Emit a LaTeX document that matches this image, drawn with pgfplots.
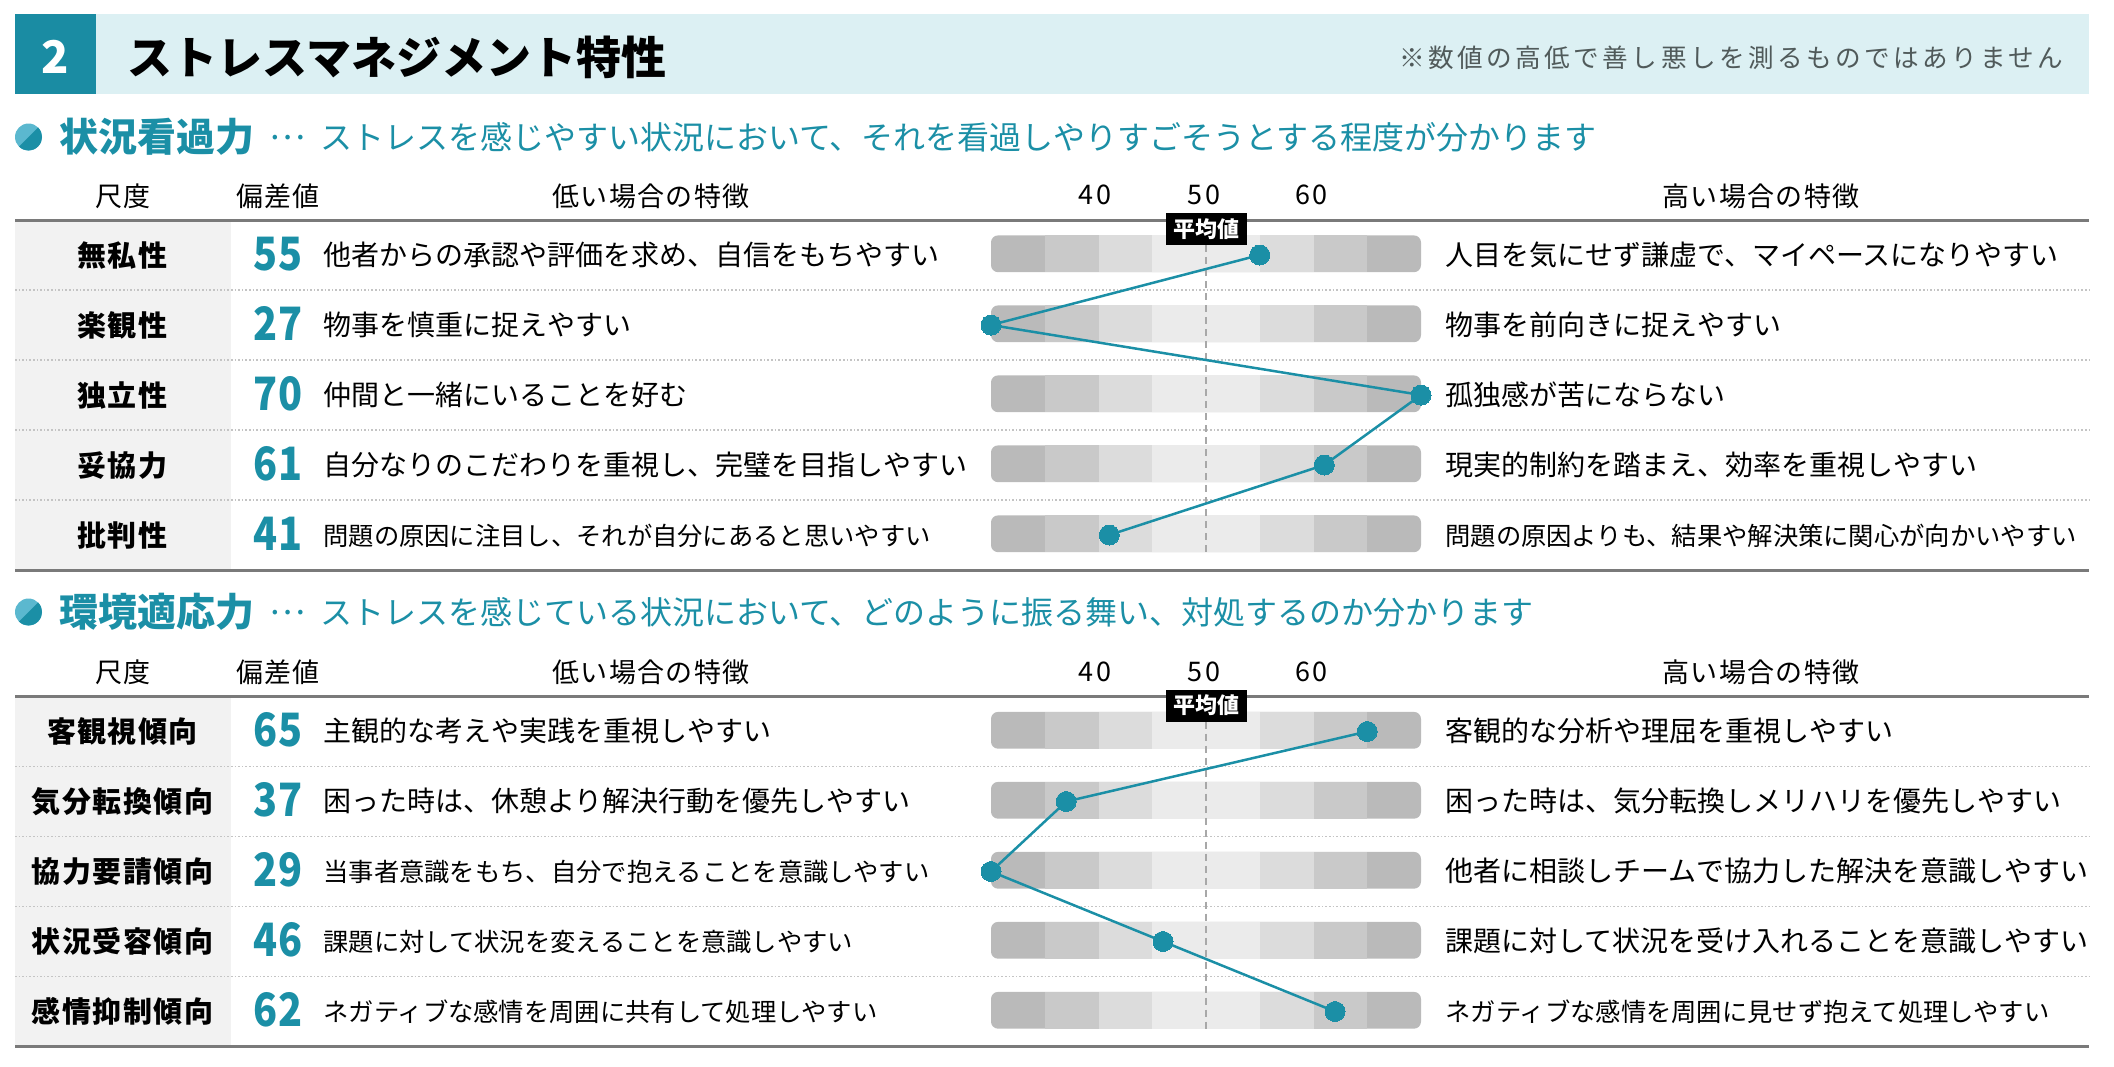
\documentclass[border=0pt]{standalone}
\usepackage{pgfplots}
\pgfplotsset{compat=1.18}
\usepackage{fontspec}
\setmainfont{Noto Sans CJK JP}
\newfontfamily\jpls{Noto Sans CJK JP}
\newfontfamily\jphd{Noto Sans CJK JP}[LetterSpace=5]
\newfontfamily\jpnote{Noto Sans CJK JP}[LetterSpace=13.5]
\newfontfamily\jptick{Noto Sans CJK JP}[LetterSpace=10]
\newfontfamily\jplbl{Noto Sans CJK JP}[LetterSpace=5]
\newfontfamily\jpdesc{Noto Sans CJK JP}
\newfontfamily\jpscore{Noto Sans CJK JP}[FakeStretch=0.86]

\definecolor{teal1}{HTML}{1B8FA6}
\definecolor{teal2}{HTML}{1A8CA3}
\definecolor{teallight}{HTML}{5BB8CF}
\definecolor{bannerbg}{HTML}{DCF0F3}
\definecolor{notegray}{HTML}{505A5A}
\definecolor{cellbg}{HTML}{F2F2F2}
\definecolor{rulec}{HTML}{7A7A7A}
\definecolor{dotc}{HTML}{C4C4C4}
\definecolor{c1}{HTML}{BABABA}
\definecolor{c2}{HTML}{C9C9C9}
\definecolor{c3}{HTML}{DCDCDC}
\definecolor{c4}{HTML}{EBEBEB}
\definecolor{dashc}{HTML}{A8A8A8}

\newcommand\nmf{\jpls\fontsize{14pt}{14pt}\selectfont}
\newcommand\smf{\jpls\fontsize{12.65pt}{12.65pt}\selectfont}
\newcommand\lblfont{\jplbl\bfseries\fontsize{14.5pt}{14.5pt}\selectfont}
\newcommand\scorefont{\jpscore\bfseries\fontsize{23pt}{23pt}\selectfont}
\newcommand\hdfont{\jphd\fontsize{13.5pt}{13.5pt}\selectfont}

% #1 y centre (px), #2 label, #3 score, #4 low font, #5 low text, #6 high font, #7 high text
\newcommand\datarow[7]{%
  \node[anchor=base, inner sep=0pt, font=\lblfont] at (122.5,#1+11) {#2};
  \node[anchor=base, inner sep=0pt, text=teal1, font=\scorefont] at (278,#1+15) {#3};
  \node[anchor=base west, inner sep=0pt, font=#4] at (323,#1+10.3) {#5};
  \node[anchor=base west, inner sep=0pt, font=#6] at (1445,#1+10.3) {#7};
}

% #1 top rule y (px)
\newcommand\tableframe[1]{%
  \fill[cellbg] (15,#1) rectangle (231,#1+350);
  \foreach \k in {1,2,3,4}{\draw[dotc, line width=0.7pt, dash pattern=on 0.8pt off 1pt] (15,#1+70*\k) -- (2089,#1+70*\k);}
  \draw[rulec, line width=1.5pt] (15,#1) -- (2089,#1);
  \draw[rulec, line width=1.5pt] (15,#1+350) -- (2089,#1+350);
}

% #1 header centre y, #2 bold title, #3 description, #4 column header centre y
\newcommand\sectionhead[4]{%
  \fill[teallight] (28.5,#1) circle (13.5);
  \fill[teal1] (28.5,#1) ++(-45:13.5) arc[start angle=-45, end angle=135, radius=13.5] -- cycle;
  \node[anchor=base west, inner sep=0pt, text=teal1, font=\bfseries\fontsize{19.5pt}{19.5pt}\selectfont] at (59,#1+14.8) {#2};
  \node[anchor=center, inner sep=0pt, text=teal1, font=\jpdesc\fontsize{17pt}{17pt}\selectfont] at (287,#1+1) {…};
  \node[anchor=base west, inner sep=0pt, text=teal1, font=\jpdesc\fontsize{16pt}{16pt}\selectfont] at (320,#1+12.2) {#3};
  \node[anchor=base, inner sep=0pt, font=\hdfont] at (123,#4+10.3) {尺度};
  \node[anchor=base, inner sep=0pt, font=\hdfont] at (278,#4+10.3) {偏差値};
  \node[anchor=base, inner sep=0pt, font=\hdfont] at (651,#4+10.3) {低い場合の特徴};
  \node[anchor=base, inner sep=0pt, font=\hdfont] at (1761,#4+10.3) {高い場合の特徴};
}

\pgfplotsset{secaxis/.style={
  at={(495.5pt,#1)}, anchor=north west, scale only axis,
  width=215pt, height=175pt,
  xmin=30, xmax=70, ymin=0.5, ymax=5.5, y dir=reverse,
  hide axis, clip=false,
  x filter/.expression={max(30,min(70,x))},
}}

\newcommand\axisdecor{%
  \pgfplotsinvokeforeach{1,...,5}{
    \fill[c1, rounded corners=3.5pt] (axis cs:30,{##1-0.28}) rectangle (axis cs:70,{##1+0.245});
    \fill[c2] (axis cs:35,{##1-0.28}) rectangle (axis cs:65,{##1+0.245});
    \fill[c3] (axis cs:40,{##1-0.28}) rectangle (axis cs:60,{##1+0.245});
    \fill[c4] (axis cs:45,{##1-0.28}) rectangle (axis cs:55,{##1+0.245});
  }
  \draw[dashc, line width=1pt, dash pattern=on 3.5pt off 2.5pt] (axis cs:50,0.857) -- (axis cs:50,5.245);
  \node[anchor=base, inner sep=0pt, font=\jptick\fontsize{13.5pt}{13.5pt}\selectfont] at (axis cs:39.7,0.28) {40};
  \node[anchor=base, inner sep=0pt, font=\jptick\fontsize{13.5pt}{13.5pt}\selectfont] at (axis cs:49.8,0.28) {50};
  \node[anchor=base, inner sep=0pt, font=\jptick\fontsize{13.5pt}{13.5pt}\selectfont] at (axis cs:59.8,0.28) {60};
}

\begin{document}
\begin{tikzpicture}
\begin{scope}[x=0.5pt,y=-0.5pt]
  \path[use as bounding box] (0,0) rectangle (2114,1066);
  % banner
  \fill[bannerbg] (15,14) rectangle (2089,94);
  \fill[teal2] (15,14) rectangle (96,94);
  \node[anchor=base, inner sep=0pt, text=white, font=\bfseries\fontsize{22.5pt}{22.5pt}\selectfont] at (55.5,73.5) {2};
  \node[anchor=base west, inner sep=0pt, font=\bfseries\fontsize{22.5pt}{22.5pt}\selectfont] at (127,74) {ストレスマネジメント特性};
  \node[anchor=base east, inner sep=0pt, text=notegray, font=\jpnote\fontsize{12.8pt}{12.8pt}\selectfont] at (2064,67.5) {※数値の高低で善し悪しを測るものではありません};

  % section 1
  \sectionhead{137}{状況看過力}{ストレスを感じやすい状況において、それを看過しやりすごそうとする程度が分かります}{196}
  \tableframe{220}
  \datarow{255}{無私性}{55}{\nmf}{他者からの承認や評価を求め、自信をもちやすい}{\nmf}{人目を気にせず謙虚で、マイペースになりやすい}
  \datarow{325}{楽観性}{27}{\nmf}{物事を慎重に捉えやすい}{\nmf}{物事を前向きに捉えやすい}
  \datarow{395}{独立性}{70}{\nmf}{仲間と一緒にいることを好む}{\nmf}{孤独感が苦にならない}
  \datarow{465}{妥協力}{61}{\nmf}{自分なりのこだわりを重視し、完璧を目指しやすい}{\nmf}{現実的制約を踏まえ、効率を重視しやすい}
  \datarow{535}{批判性}{41}{\smf}{問題の原因に注目し、それが自分にあると思いやすい}{\smf}{問題の原因よりも、結果や解決策に関心が向かいやすい}

  % section 2
  \sectionhead{612}{環境適応力}{ストレスを感じている状況において、どのように振る舞い、対処するのか分かります}{672}
  \tableframe{696.5}
  \datarow{731.5}{客観視傾向}{65}{\nmf}{主観的な考えや実践を重視しやすい}{\nmf}{客観的な分析や理屈を重視しやすい}
  \datarow{801.5}{気分転換傾向}{37}{\nmf}{困った時は、休憩より解決行動を優先しやすい}{\nmf}{困った時は、気分転換しメリハリを優先しやすい}
  \datarow{871.5}{協力要請傾向}{29}{\smf}{当事者意識をもち、自分で抱えることを意識しやすい}{\nmf}{他者に相談しチームで協力した解決を意識しやすい}
  \datarow{941.5}{状況受容傾向}{46}{\smf}{課題に対して状況を変えることを意識しやすい}{\nmf}{課題に対して状況を受け入れることを意識しやすい}
  \datarow{1011.5}{感情抑制傾向}{62}{\smf}{ネガティブな感情を周囲に共有して処理しやすい}{\smf}{ネガティブな感情を周囲に見せず抱えて処理しやすい}
\end{scope}

\begin{axis}[secaxis={-110pt}]
  \axisdecor
  \addplot[color=teal1, line width=1.25pt, mark=*, mark size=5pt,
    mark options={solid, fill=teal1, draw=teal1, line width=0pt}]
    coordinates {(55,1) (27,2) (70,3) (61,4) (41,5)};
  \node[fill=black, text=white, inner sep=0pt, minimum width=40.5pt, minimum height=16pt,
    font=\bfseries\fontsize{11pt}{11pt}\selectfont] at (axis cs:50,0.629) {平均値};
\end{axis}

\begin{axis}[secaxis={-348.25pt}]
  \axisdecor
  \addplot[color=teal1, line width=1.25pt, mark=*, mark size=5pt,
    mark options={solid, fill=teal1, draw=teal1, line width=0pt}]
    coordinates {(65,1) (37,2) (29,3) (46,4) (62,5)};
  \node[fill=black, text=white, inner sep=0pt, minimum width=40.5pt, minimum height=16pt,
    font=\bfseries\fontsize{11pt}{11pt}\selectfont] at (axis cs:50,0.629) {平均値};
\end{axis}
\end{tikzpicture}
\end{document}
